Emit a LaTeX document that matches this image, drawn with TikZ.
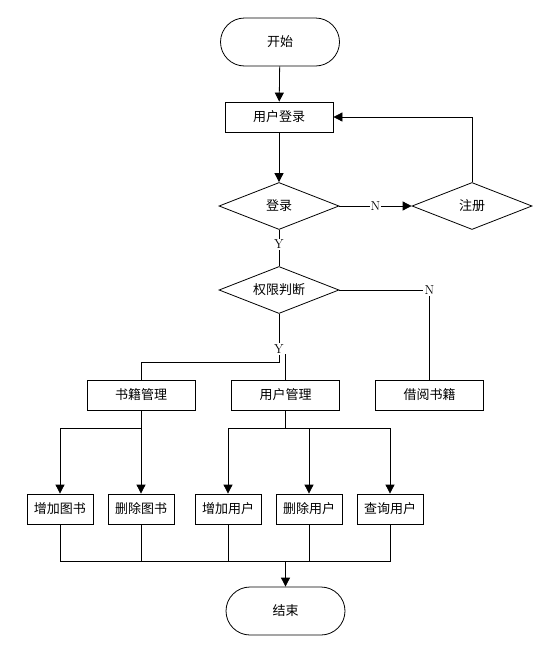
\documentclass[tikz,border=0pt]{standalone}
\usepackage{fontspec}
\newfontfamily\cjk{Noto Sans CJK SC}
\usepackage{tikz}
\usetikzlibrary{arrows.meta,shapes.geometric,shapes.misc}

\begin{document}
\begin{tikzpicture}[x=1pt,y=-1pt,line width=0.8pt,
  every node/.style={font=\cjk\fontsize{13}{15}\selectfont,inner sep=0pt},
  term/.style={draw,rounded rectangle,minimum width=119pt,minimum height=48pt},
  box/.style={draw,rectangle,minimum width=108pt,minimum height=30pt},
  leaf/.style={draw,rectangle,minimum width=66pt,minimum height=30pt},
  dec/.style={draw,diamond,aspect=2.5,minimum width=120pt,minimum height=47pt},
  yn/.style={font=\fontsize{13}{15}\selectfont,fill=white,inner sep=1pt},
  arr/.style={-{Triangle[length=9pt,width=9pt]}}]
\useasboundingbox (0,0) rectangle (557,667);

% nodes
\node[term] (start) at (280,42) {开始};
\node[box] (login) at (279,117) {用户登录};
\node[dec] (check) at (279,206) {登录};
\node[dec] (reg) at (472,206) {注册};
\node[dec] (auth) at (279,290) {权限判断};
\node[yn] (yB) at (279,349) {Y};
\node[yn] (nB) at (429.5,290) {N};
\node[box] (books) at (141,395) {书籍管理};
\node[box] (users) at (285.5,395) {用户管理};
\node[box] (borrow) at (429.5,395) {借阅书籍};
\node[leaf] (addbook) at (60,509) {增加图书};
\node[leaf] (delbook) at (141,509) {删除图书};
\node[leaf] (adduser) at (228,509) {增加用户};
\node[leaf] (deluser) at (309,509) {删除用户};
\node[leaf] (finduser) at (390,509) {查询用户};
\node[term] (end) at (285.5,611) {结束};
\coordinate (split) at (279,362);
\coordinate (join) at (285.5,561);

% connectors
\draw[arr] (start) -- (login);
\draw[arr] (login) -- (check);
\draw[arr] (check) -- node[yn] {N} (reg);
\draw[arr] (reg.north) |- (login.east);
\draw (check) -- node[yn,pos=0.4] {Y} (auth);
\draw (auth) -- (yB);
\draw (auth) -- (nB) -- (borrow);
\draw (yB) -- (split) -| (books);
\draw (yB.south east) -| (users.north);
\draw[arr] (books.south) -- ++(0,18) -| (addbook.north);
\draw[arr] (books) -- (delbook);
\foreach \n in {adduser,deluser,finduser}
  \draw[arr] (users.south) -- ++(0,18) -| (\n.north);
\foreach \n in {addbook,delbook,adduser,deluser,finduser}
  \draw (\n.south) |- (join);
\draw[arr] (join) -- (end);
\end{tikzpicture}
\end{document}
